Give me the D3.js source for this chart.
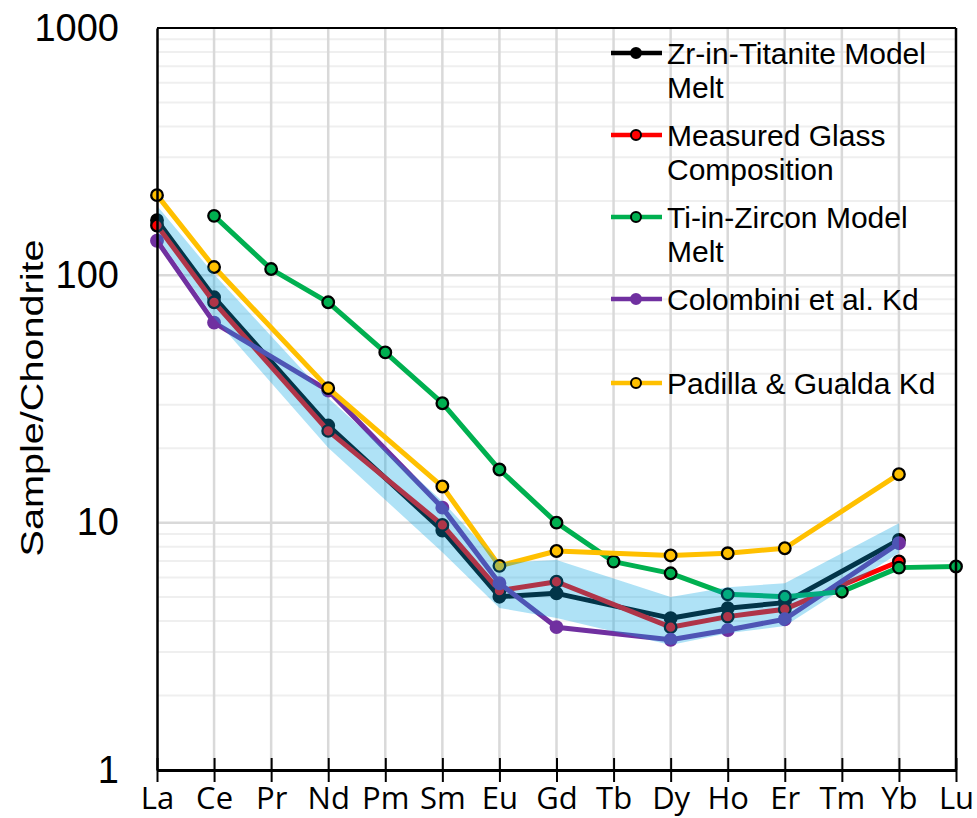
<!DOCTYPE html>
<html>
<head>
<meta charset="utf-8">
<script src="https://cdn.jsdelivr.net/npm/d3@7/dist/d3.min.js"></script>
<style>
  html, body { margin: 0; padding: 0; background: #fff; }
  svg { display: block; }
</style>
</head>
<body>
<svg id="chart" width="977" height="818"></svg>
<script>
// Rare earth elements (chondrite-normalised REE pattern)
const elements = ["La","Ce","Pr","Nd","Pm","Sm","Eu","Gd","Tb","Dy","Ho","Er","Tm","Yb","Lu"];

const zrTitanite    = [167, 81.5, null, 24.7, null, 9.30, 5.02, 5.18, null, 4.11, 4.51, 4.75, null, 8.51, null];
const measuredGlass = [159, 77.8, null, 23.5, null, 9.79, 5.31, 5.77, null, 3.78, 4.17, 4.47, null, 6.97, null];
const tiZircon      = [null, 174, 106, 77.8, 48.8, 30.4, 16.4, 10.0, 6.96, 6.24, 5.13, 5.02, 5.26, 6.58, 6.65];
const colombini     = [138, 64.4, null, 34.2, null, 11.5, 5.69, 3.78, null, 3.36, 3.68, 4.07, null, 8.26, null];
const padilla       = [211, 108, null, 35.0, null, 14.0, 6.69, 7.68, null, 7.37, 7.52, 7.88, null, 15.7, null];

// Uncertainty envelope of the Zr-in-titanite model melt
const bandUpper = [191, 101, null, 31.9, null, 12.2, 6.87, 7.06, null, 5.00, 5.48, 5.69, null, 9.94, null];
const bandLower = [144, 67.3, null, 20.1, null, 7.6, 4.52, 4.12, null, 3.20, 3.57, 3.82, null, 7.54, null];

const yTicks = [1, 10, 100, 1000];

const series = [
  { name: ["Zr-in-Titanite Model", "Melt"], values: zrTitanite, line: "#000000", fill: "#000000", stroke: "#000000" },
  { name: ["Measured Glass", "Composition"], values: measuredGlass, line: "#ff0000", fill: "#ff0000", stroke: "#000000" },
  { name: ["Colombini et al. Kd"], values: colombini, line: "#7030a0", fill: "#7030a0", stroke: "#7030a0" },
  { name: ["Ti-in-Zircon Model", "Melt"], values: tiZircon, line: "#00b050", fill: "#00b050", stroke: "#000000" },
  { name: ["Padilla & Gualda Kd"], values: padilla, line: "#ffc000", fill: "#ffc000", stroke: "#000000" }
];

const svg = d3.select("#chart");
const plotLeft = 157, plotRight = 956, plotTop = 28, plotBottom = 770;

const x = d3.scalePoint().domain(elements).range([plotLeft, plotRight]);
const y = d3.scaleLog().domain([1, 1000]).range([plotBottom, plotTop]);

// Minor horizontal gridlines
const minor = [];
for (let d = 1; d < 1000; d *= 10) for (let m = 2; m <= 9; m++) minor.push(d * m);
svg.append("g").selectAll("line").data(minor).join("line")
  .attr("x1", plotLeft).attr("x2", plotRight)
  .attr("y1", d => y(d)).attr("y2", d => y(d))
  .attr("stroke", "#efefef").attr("stroke-width", 2);

// Major horizontal gridlines
svg.append("g").selectAll("line").data([10, 100]).join("line")
  .attr("x1", plotLeft).attr("x2", plotRight)
  .attr("y1", d => y(d)).attr("y2", d => y(d))
  .attr("stroke", "#d9d9d9").attr("stroke-width", 2.5);

// Vertical gridlines
svg.append("g").selectAll("line").data(elements.slice(1, -1)).join("line")
  .attr("x1", d => x(d)).attr("x2", d => x(d))
  .attr("y1", plotTop).attr("y2", plotBottom)
  .attr("stroke", "#d9d9d9").attr("stroke-width", 2.5);

// Series lines and markers
const line = d3.line().x(d => x(d.el)).y(d => y(d.v));
series.forEach(s => {
  const pts = elements.map((el, i) => ({ el, v: s.values[i] })).filter(d => d.v != null);
  const g = svg.append("g");
  g.append("path").datum(pts).attr("d", line)
    .attr("fill", "none").attr("stroke", s.line).attr("stroke-width", 5)
    .attr("stroke-linejoin", "round");
  g.selectAll("circle").data(pts).join("circle")
    .attr("cx", d => x(d.el)).attr("cy", d => y(d.v)).attr("r", 5.8)
    .attr("fill", s.fill).attr("stroke", s.stroke).attr("stroke-width", 2.3);
});

// Envelope drawn over the lines, translucent
const bandPts = elements.map((el, i) => ({ el, hi: bandUpper[i], lo: bandLower[i] })).filter(d => d.hi != null);
svg.append("path").datum(bandPts)
  .attr("d", d3.area().x(d => x(d.el)).y0(d => y(d.lo)).y1(d => y(d.hi)))
  .attr("fill", "#05a4e3").attr("fill-opacity", 0.32);

// Frame
svg.append("line").attr("x1", plotLeft).attr("x2", plotRight).attr("y1", plotTop).attr("y2", plotTop)
  .attr("stroke", "#000").attr("stroke-width", 2);
svg.append("line").attr("x1", plotRight).attr("x2", plotRight).attr("y1", plotTop).attr("y2", plotBottom)
  .attr("stroke", "#000").attr("stroke-width", 2.5);

// X axis
const xAxis = svg.append("g").attr("transform", `translate(0,${plotBottom})`)
  .call(d3.axisBottom(x).tickSizeInner(12).tickSizeOuter(0).tickPadding(8));
xAxis.select(".domain").attr("stroke", "#000").attr("stroke-width", 3);
xAxis.selectAll(".tick line").attr("y1", -12).attr("y2", 12).attr("stroke", "#000").attr("stroke-width", 2);
xAxis.selectAll(".tick text")
  .attr("font-family", "'Open Sans', sans-serif").attr("font-size", 31).attr("fill", "#000")
  .attr("y", 39).attr("dy", 0);

// Y axis
const yAxis = svg.append("g").attr("transform", `translate(${plotLeft},0)`)
  .call(d3.axisLeft(y).tickValues(yTicks).tickFormat(d3.format("d")).tickSize(0).tickPadding(38));
yAxis.select(".domain").attr("stroke", "#000").attr("stroke-width", 2.5);
yAxis.selectAll(".tick text")
  .attr("font-family", "'Liberation Sans', Arial, sans-serif").attr("font-size", 38).attr("fill", "#000");

// Y axis title
svg.append("text")
  .attr("transform", "translate(43,398) rotate(-90)")
  .attr("text-anchor", "middle")
  .attr("font-family", "'Liberation Sans', Arial, sans-serif").attr("font-size", 31)
  .attr("textLength", 317).attr("lengthAdjust", "spacingAndGlyphs")
  .text("Sample/Chondrite");

// Legend
const legendRows = [53, 135, 217, 299, 383];
const legendOrder = [0, 1, 3, 2, 4];
const legend = svg.append("g");
legendOrder.forEach((si, k) => {
  const s = series[si];
  const ly = legendRows[k];
  const g = legend.append("g");
  g.append("line").attr("x1", 611).attr("x2", 662).attr("y1", ly).attr("y2", ly)
    .attr("stroke", s.line).attr("stroke-width", 4.5);
  g.append("circle").attr("cx", 636).attr("cy", ly).attr("r", 5)
    .attr("fill", s.fill).attr("stroke", s.stroke).attr("stroke-width", 2);
  s.name.forEach((t, j) => {
    g.append("text").attr("x", 667).attr("y", ly + j * 34).attr("dy", "0.36em")
      .attr("font-family", "'Liberation Sans', Arial, sans-serif").attr("font-size", 30)
      .attr("fill", "#000").text(t);
  });
});
</script>
</body>
</html>
